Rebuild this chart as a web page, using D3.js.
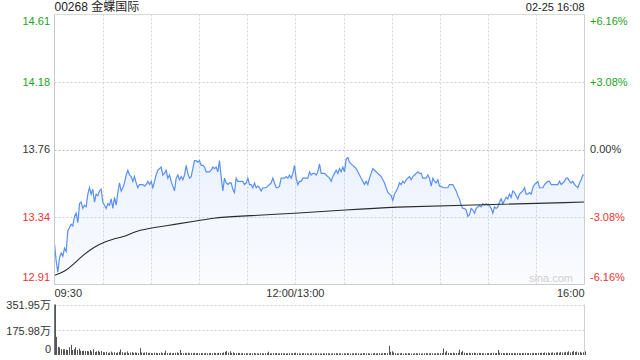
<!DOCTYPE html>
<html lang="zh">

<head>
    <meta charset="UTF-8">
    <title>00268 金蝶国际 分时</title>
    <script src="https://d3js.org/d3.v7.min.js"></script>
</head>
<style>
    body {
        margin: 0;
        background: #fff;
    }
    
    text {
        font-family: "Liberation Sans", Arial, "Noto Sans CJK SC", sans-serif;
    }
</style>

<body>
    <div id="chart"></div>
    <script>
        // data
        const title = "00268 金蝶国际";
        const stamp = "02-25 16:08";
        const prevClose = 13.76;
        const maxPct = 6.16;
        const pctTicks = [6.16, 3.08, 0, -3.08, -6.16];
        const priceLabels = ["14.61", "14.18", "13.76", "13.34", "12.91"];
        const pctLabels = ["+6.16%", "+3.08%", "0.00%", "-3.08%", "-6.16%"];
        const timeLabels = ["09:30", "12:00/13:00", "16:00"];
        const volTicks = [351.95, 175.98, 0];
        const volLabels = ["351.95万", "175.98万", "0"];

        // one value about every minute, 09:30 -> 16:00
        const price = [
            13.17, 13.06, 12.99, 13.08, 13.11, 13.09, 13.14, 13.12, 13.25, 13.27, 13.29, 13.28, 13.34, 13.36, 13.30, 13.42, 13.43, 13.39, 13.41, 13.40,
            13.48, 13.52, 13.48, 13.51, 13.43, 13.48, 13.47, 13.50, 13.51, 13.43, 13.41, 13.39, 13.42, 13.41, 13.45, 13.39, 13.46, 13.41, 13.49, 13.55,
            13.50, 13.52, 13.55, 13.60, 13.63, 13.60, 13.59, 13.56, 13.59, 13.55, 13.52, 13.54, 13.54, 13.54, 13.53, 13.54, 13.56, 13.54, 13.56, 13.52,
            13.56, 13.60, 13.63, 13.64, 13.65, 13.60, 13.61, 13.63, 13.58, 13.60, 13.56, 13.53, 13.50, 13.58, 13.60, 13.57, 13.59, 13.57, 13.60, 13.66,
            13.61, 13.58, 13.59, 13.64, 13.69, 13.69, 13.68, 13.69, 13.66, 13.66, 13.65, 13.62, 13.62, 13.62, 13.63, 13.65, 13.64, 13.65, 13.62, 13.69,
            13.59, 13.50, 13.58, 13.55, 13.54, 13.55, 13.55, 13.51,
            13.49, 13.58, 13.56, 13.56, 13.56, 13.56, 13.54, 13.55, 13.58, 13.54, 13.54, 13.52, 13.55, 13.52, 13.53, 13.52, 13.50, 13.52, 13.52, 13.52,
            13.53, 13.54, 13.55, 13.58, 13.55, 13.52, 13.52, 13.53, 13.58, 13.58, 13.58, 13.59, 13.58, 13.60, 13.58, 13.61, 13.66, 13.58, 13.54, 13.56,
            13.56, 13.58, 13.58, 13.58, 13.58, 13.62, 13.60, 13.61, 13.61, 13.60, 13.62, 13.67, 13.61, 13.61, 13.61, 13.60, 13.59, 13.58, 13.56, 13.59,
            13.61, 13.63, 13.61, 13.64, 13.62, 13.65, 13.62, 13.70, 13.71, 13.68, 13.67, 13.66, 13.65, 13.64, 13.62, 13.60, 13.58, 13.56, 13.54, 13.56,
            13.54, 13.58, 13.61, 13.64, 13.63, 13.62, 13.61, 13.60, 13.59, 13.57, 13.55, 13.52, 13.49, 13.48, 13.47, 13.44, 13.48, 13.50, 13.52, 13.55,
            13.54, 13.56, 13.55, 13.57, 13.58, 13.59,
            13.57, 13.59, 13.60, 13.61, 13.62, 13.61, 13.61, 13.58, 13.58, 13.58, 13.60, 13.58, 13.53, 13.58, 13.56, 13.55, 13.57, 13.53, 13.53, 13.52,
            13.52, 13.52, 13.52, 13.54, 13.54, 13.54, 13.52, 13.50, 13.47, 13.45, 13.41, 13.39, 13.39, 13.38, 13.34, 13.35, 13.39, 13.38, 13.36, 13.39,
            13.40, 13.41, 13.40, 13.42, 13.41, 13.42, 13.41, 13.41, 13.39, 13.36, 13.40, 13.39, 13.40, 13.43, 13.45, 13.42, 13.44, 13.46, 13.45, 13.48,
            13.46, 13.50, 13.49, 13.47, 13.45, 13.48, 13.49, 13.50, 13.52, 13.48, 13.48, 13.49, 13.48, 13.52, 13.54, 13.55, 13.56, 13.52, 13.52, 13.52,
            13.54, 13.55, 13.56, 13.56, 13.54, 13.54, 13.54, 13.54, 13.54, 13.56, 13.54, 13.55, 13.56, 13.58, 13.58, 13.56, 13.55, 13.56, 13.54, 13.53,
            13.52, 13.55, 13.57, 13.60, 13.60
        ];

        // average price line, [minute, value]
        const avgTime = [0, 6, 12, 18, 25, 31, 37, 43, 51, 62, 75, 87, 99, 112, 151, 181, 211, 256, 330];
        const avgPrice = [12.97, 12.99, 13.04, 13.10, 13.15, 13.18, 13.20, 13.21, 13.25, 13.27, 13.29, 13.31, 13.33, 13.34, 13.36, 13.38, 13.40, 13.41, 13.43];

        // volume per minute, in 万
        const volume = [
            351.95, 126, 57, 53, 41, 40, 40, 37, 35, 55, 71, 35, 40, 55, 35, 45, 30, 28, 30, 28, 28, 25, 35, 25, 40, 20, 25, 30, 22, 28,
            20, 18, 22, 15, 18, 24, 16, 20, 14, 18, 22, 39, 20, 16, 18, 25, 14, 17, 20, 15, 18, 16, 14, 48, 18, 15, 17, 20, 14, 16,
            14, 12, 16, 15, 13, 14, 18, 12, 15, 30, 14, 13, 16, 12, 14, 15, 18, 13, 35, 14, 12, 15, 13, 16, 12, 14, 13, 15, 12, 14,
            12, 14, 13, 11, 15, 12, 13, 14, 12, 16, 13, 12, 15, 14, 13, 18, 22, 28, 16, 26, 14, 18, 13, 12, 15, 14, 12, 13, 11, 12,
            12, 11, 13, 12, 14, 11, 12, 10, 13, 12, 11, 12, 14, 23, 12, 11, 13, 12, 14, 11, 12, 13, 11, 12, 10, 12, 13, 11, 12, 14,
            16, 12, 11, 10, 12, 13, 11, 12, 10, 11, 12, 10, 13, 11, 12, 11, 10, 12, 11, 13, 12, 11, 10, 12, 11, 13, 12, 11, 12, 10,
            12, 11, 13, 12, 10, 11, 12, 13, 11, 12, 10, 11, 12, 13, 11, 12, 11, 10, 12, 14, 11, 12, 13, 11, 12, 14, 13, 12, 64, 22,
            26, 18, 13, 12, 11, 12, 13, 10, 12, 11, 13, 12, 11, 10, 12, 13, 11, 12, 10, 11, 12, 14, 12, 11, 13, 12, 11, 12, 13, 12,
            14, 13, 46, 18, 28, 15, 14, 13, 16, 12, 14, 15, 37, 20, 28, 16, 14, 13, 15, 12, 14, 16, 13, 12, 15, 14, 13, 12, 11, 13,
            14, 12, 13, 15, 12, 14, 35, 16, 13, 14, 12, 15, 13, 14, 12, 13, 15, 12, 14, 13, 12, 14, 13, 15, 12, 14, 13, 12, 15, 14,
            13, 15, 14, 16, 14, 18, 15, 17, 14, 16, 18, 15, 17, 19, 16, 20, 18, 17, 22, 19, 26, 18, 22, 28, 20, 24, 18, 22, 16, 20,
            25
        ];

        const W = 640,
            H = 360;
        const pLeft = 54.5,
            pRight = 584.5;
        const pTop = 14.5,
            pBottom = 284.5;
        const vTop = 304.5,
            vBottom = 355;
        const totalMin = 330;
        const green = '#22a322',
            red = '#ee3333',
            dark = '#333';

        const svg = d3.select('#chart')
            .append('svg')
            .attr('width', W)
            .attr('height', H);

        const x = d3.scaleLinear().domain([0, totalMin]).range([pLeft, pRight]);
        const y = d3.scaleLinear()
            .domain([prevClose * (1 - maxPct / 100), prevClose * (1 + maxPct / 100)])
            .range([pBottom, pTop]);
        const yv = d3.scaleLinear().domain([0, volTicks[0]]).range([vBottom, vTop]);

        const priceStep = totalMin / (price.length - 1);
        const volStep = totalMin / (volume.length - 1);

        // gradient under the line
        const grad = svg.append('defs').append('linearGradient')
            .attr('id', 'fill')
            .attr('gradientUnits', 'userSpaceOnUse')
            .attr('x1', 0).attr('y1', pTop)
            .attr('x2', 0).attr('y2', pBottom);
        grad.append('stop').attr('offset', 0).attr('stop-color', '#5a8ff0').attr('stop-opacity', 0.22);
        grad.append('stop').attr('offset', 1).attr('stop-color', '#5a8ff0').attr('stop-opacity', 0.03);

        // vertical grid, every 30 minutes (price panel only)
        const gridMin = d3.range(30, totalMin, 30);
        svg.selectAll('.vgrid')
            .data(gridMin)
            .enter()
            .append('line')
            .attr('x1', d => Math.round(x(d)) + 0.5)
            .attr('x2', d => Math.round(x(d)) + 0.5)
            .attr('y1', pTop)
            .attr('y2', pBottom)
            .attr('stroke', '#d6d6d6')
            .attr('stroke-dasharray', '2,2');

        // horizontal grid (inner ticks only)
        svg.selectAll('.hgrid')
            .data(pctTicks.slice(1, 4))
            .enter()
            .append('line')
            .attr('x1', pLeft)
            .attr('x2', pRight)
            .attr('y1', d => Math.round(y(prevClose * (1 + d / 100))) + 0.5)
            .attr('y2', d => Math.round(y(prevClose * (1 + d / 100))) + 0.5)
            .attr('stroke', d => d === 0 ? '#bbb' : '#d0d0d0')
            .attr('stroke-dasharray', '2,2');

        // area + price line
        const area = d3.area()
            .x((d, i) => x(i * priceStep))
            .y0(pBottom)
            .y1(d => y(d));
        svg.append('path')
            .datum(price)
            .attr('d', area)
            .attr('fill', 'url(#fill)');

        const line = d3.line()
            .x((d, i) => x(i * priceStep))
            .y(d => y(d));
        svg.append('path')
            .datum(price)
            .attr('d', line)
            .attr('fill', 'none')
            .attr('stroke', '#5890f2')
            .attr('stroke-width', 1.2);

        // average line
        const avgLine = d3.line()
            .x((d, i) => x(avgTime[i]))
            .y(d => y(d))
            .curve(d3.curveBasis);
        svg.append('path')
            .datum(avgPrice)
            .attr('d', avgLine)
            .attr('fill', 'none')
            .attr('stroke', '#2a2a2a')
            .attr('stroke-width', 1.1);

        // frame of price panel
        svg.append('line').attr('x1', pLeft).attr('x2', pRight).attr('y1', pTop).attr('y2', pTop).attr('stroke', '#d9d9d9');
        svg.append('line').attr('x1', pLeft).attr('x2', pRight).attr('y1', pBottom).attr('y2', pBottom).attr('stroke', '#ccc');
        svg.append('line').attr('x1', pLeft).attr('x2', pLeft).attr('y1', pTop).attr('y2', pBottom).attr('stroke', '#c8c8c8');
        svg.append('line').attr('x1', pRight).attr('x2', pRight).attr('y1', pTop).attr('y2', pBottom).attr('stroke', '#d0d0d0');

        // volume panel
        svg.selectAll('.vh')
            .data(volTicks.slice(0, 2))
            .enter()
            .append('line')
            .attr('x1', pLeft)
            .attr('x2', pRight)
            .attr('y1', d => Math.round(yv(d)) + 0.5)
            .attr('y2', d => Math.round(yv(d)) + 0.5)
            .attr('stroke', '#ccc')
            .attr('stroke-dasharray', '2,2');
        svg.append('line').attr('x1', pRight).attr('x2', pRight).attr('y1', vTop).attr('y2', vBottom).attr('stroke', '#d0d0d0');

        svg.selectAll('.bar')
            .data(volume)
            .enter()
            .append('line')
            .attr('x1', (d, i) => Math.round(x(i * volStep)) + 0.5)
            .attr('x2', (d, i) => Math.round(x(i * volStep)) + 0.5)
            .attr('y1', vBottom)
            .attr('y2', d => yv(d))
            .attr('stroke', '#555')
            .attr('stroke-width', 1);

        svg.append('line').attr('x1', pLeft).attr('x2', pLeft).attr('y1', vTop).attr('y2', vBottom).attr('stroke', '#777');

        // left price labels
        svg.selectAll('.pl')
            .data(pctTicks)
            .enter()
            .append('text')
            .attr('x', 50)
            .attr('y', (d, i) => {
                const yy = y(prevClose * (1 + d / 100));
                if (i === 0) return yy + 7;
                if (i === pctTicks.length - 1) return yy - 7;
                return yy;
            })
            .attr('dy', '0.35em')
            .attr('text-anchor', 'end')
            .attr('font-size', '11px')
            .attr('fill', d => d > 0 ? green : d < 0 ? red : dark)
            .text((d, i) => priceLabels[i]);

        // right percent labels
        svg.selectAll('.pr')
            .data(pctTicks)
            .enter()
            .append('text')
            .attr('x', 590)
            .attr('y', (d, i) => {
                const yy = y(prevClose * (1 + d / 100));
                if (i === 0) return yy + 7;
                if (i === pctTicks.length - 1) return yy - 7;
                return yy;
            })
            .attr('dy', '0.35em')
            .attr('text-anchor', 'start')
            .attr('font-size', '11px')
            .attr('fill', d => d > 0 ? green : d < 0 ? red : dark)
            .text((d, i) => pctLabels[i]);

        // time labels
        const timePos = [0, 150, totalMin];
        const timeAnchor = ['start', 'middle', 'end'];
        svg.selectAll('.tl')
            .data(timeLabels)
            .enter()
            .append('text')
            .attr('x', (d, i) => x(timePos[i]))
            .attr('y', 293.5)
            .attr('dy', '0.35em')
            .attr('text-anchor', (d, i) => timeAnchor[i])
            .attr('font-size', '11px')
            .attr('fill', dark)
            .text(d => d);

        // volume labels
        svg.selectAll('.vl')
            .data(volTicks)
            .enter()
            .append('text')
            .attr('x', 51)
            .attr('y', (d, i) => i === 2 ? yv(d) - 6 : yv(d) + 1)
            .attr('dy', '0.35em')
            .attr('text-anchor', 'end')
            .attr('font-size', '11px')
            .attr('fill', dark)
            .text((d, i) => volLabels[i]);

        // header
        svg.append('text')
            .attr('x', pLeft)
            .attr('y', 7)
            .attr('dy', '0.35em')
            .attr('font-size', '12px')
            .attr('fill', '#222')
            .text(title);
        svg.append('text')
            .attr('x', pRight)
            .attr('y', 7)
            .attr('dy', '0.35em')
            .attr('text-anchor', 'end')
            .attr('font-size', '11px')
            .attr('fill', '#222')
            .text(stamp);

        // watermark
        svg.append('text')
            .attr('x', 573)
            .attr('y', 278)
            .attr('dy', '0.35em')
            .attr('text-anchor', 'end')
            .attr('font-size', '11px')
            .attr('fill', '#cfcfcf')
            .text('sina.com');
    </script>
</body>

</html>
